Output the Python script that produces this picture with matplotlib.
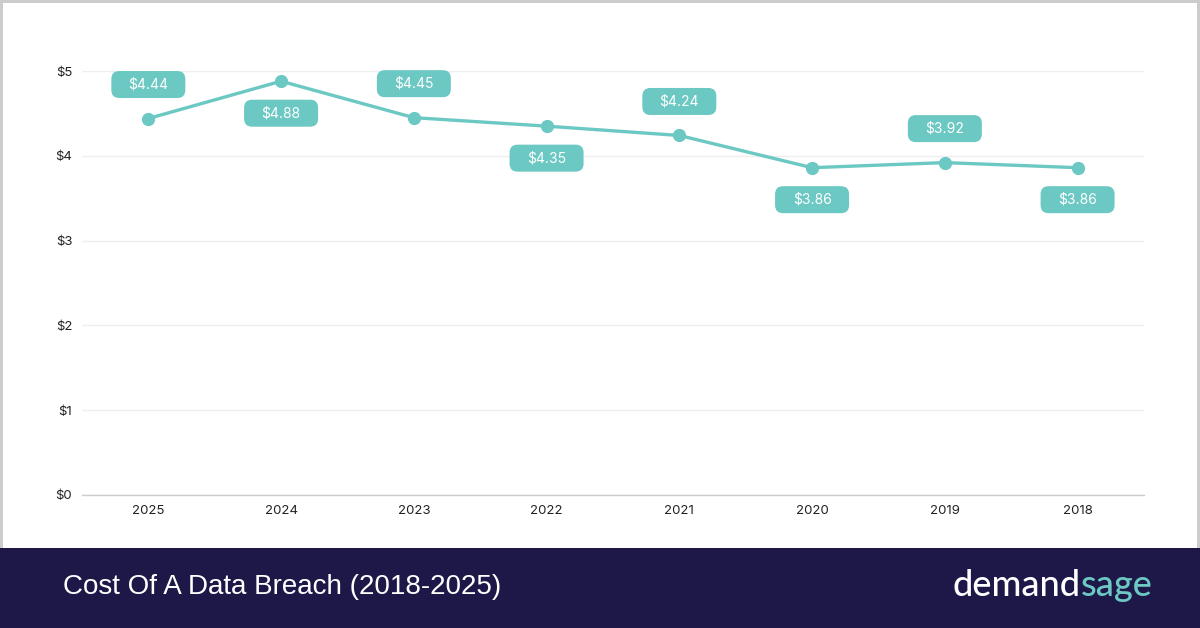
import matplotlib
matplotlib.use("Agg")
import matplotlib.pyplot as plt
from matplotlib.patches import FancyBboxPatch, Rectangle
from matplotlib.transforms import IdentityTransform

years = ["2025", "2024", "2023", "2022", "2021", "2020", "2019", "2018"]
cost = [4.44, 4.88, 4.45, 4.35, 4.24, 3.86, 3.92, 3.86]
label_above = [True, False, True, False, True, False, True, False]
yticks = [0, 1, 2, 3, 4, 5]
ytick_labels = ["$0", "$1", "$2", "$3", "$4", "$5"]

teal = "#6cc8c3"
navy = "#1e1848"

plt.rcParams['font.family'] = ['Inter', 'DejaVu Sans']

fig = plt.figure(figsize=(12, 6.28), dpi=100)
fig.patch.set_facecolor("white")
ax = fig.add_axes([0.0683, 0.2118, 0.885, 0.6751])

x = list(range(len(years)))
ax.plot(x, cost, color=teal, lw=2.4, marker="o", markersize=8.5, zorder=3)
ax.set_xlim(-0.5, len(years) - 0.5)
ax.set_ylim(0, 5)
ax.set_xticks(x)
ax.set_xticklabels(years)
ax.set_yticks(yticks)
ax.set_yticklabels(ytick_labels)
ax.tick_params(axis="both", length=0, labelsize=9.5, labelcolor="#222222")
ax.tick_params(axis="x", pad=7)
ax.tick_params(axis="y", pad=7)
ax.grid(axis="y", color="#eeeeee", lw=1)
ax.set_axisbelow(True)
for s in ["top", "right", "left"]:
    ax.spines[s].set_visible(False)
ax.spines["bottom"].set_color("#cccccc")
ax.spines["bottom"].set_linewidth(1)

# value badges, sized in pixels around each point
bw, bh = 74, 27
for i, v in enumerate(cost):
    px, py = ax.transData.transform((i, v))
    cy = py + 34 if label_above[i] else py - 32
    box = FancyBboxPatch((px - bw / 2, cy - bh / 2), bw, bh,
                         boxstyle="round,pad=0,rounding_size=8",
                         fc=teal, ec="none", transform=IdentityTransform(), zorder=4)
    fig.add_artist(box)
    fig.text(px, cy, "$%.2f" % v, color="white", fontsize=10, ha="center", va="center",
             transform=IdentityTransform(), zorder=5)

# footer band
fig.add_artist(Rectangle((0, 0), 1, 80 / 628, transform=fig.transFigure, fc=navy, ec="none", zorder=1))
fig.text(63 / 1200, 41 / 628, "Cost Of A Data Breach (2018-2025)", color="white", fontsize=20,
         family=["Liberation Sans", "DejaVu Sans"], ha="left", va="center")

sage = fig.text(1153 / 1200, 42 / 628, "sage", color=teal, fontsize=26, family=["Lato", "DejaVu Sans"],
                ha="right", va="center", weight="medium")
fig.canvas.draw()
bb = sage.get_window_extent()
fig.text(bb.x0, 42, "demand", color="white", fontsize=26, family=["Lato", "DejaVu Sans"],
         ha="right", va="center", weight="medium", transform=IdentityTransform())

# thin gray frame
for r in [(0, 1 - 3 / 628, 1, 3 / 628), (0, 80 / 628, 3 / 1200, 1), (1 - 3 / 1200, 80 / 628, 3 / 1200, 1)]:
    fig.add_artist(Rectangle(r[:2], r[2], r[3], transform=fig.transFigure, fc="#cccccc", ec="none", zorder=2))

fig.savefig("out.png", dpi=100)
